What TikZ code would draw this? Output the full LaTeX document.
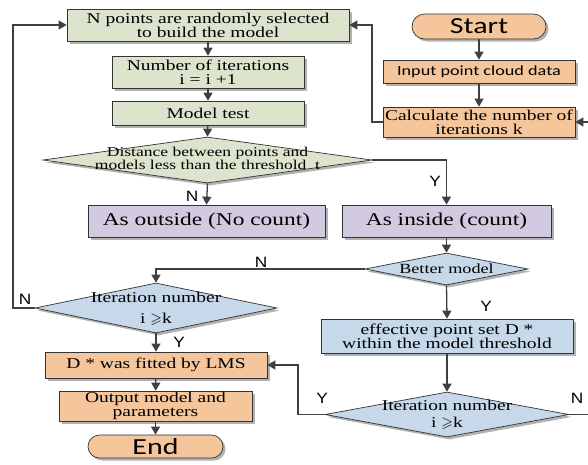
\documentclass[tikz,border=0pt]{standalone}
\usepackage{fontspec}
\setmainfont{Liberation Serif}[FakeStretch=1.3]
\newfontfamily\carl{Carlito}[FakeStretch=1.3]
\newfontfamily\lsans{Liberation Sans}[FakeStretch=1.15]
\usepackage{amssymb}
\usetikzlibrary{shapes.geometric,shadows,arrows.meta}
\definecolor{gr}{RGB}{221,228,205}
\definecolor{org}{RGB}{245,197,156}
\definecolor{lav}{RGB}{209,202,224}
\definecolor{blu}{RGB}{198,216,234}
\definecolor{ln}{RGB}{64,64,64}
\tikzset{
  base/.style={draw=black!80, line width=0.7pt, inner sep=0pt, align=center,
    drop shadow={shadow xshift=2.5pt, shadow yshift=-2.5pt, fill=black!30, opacity=1}},
  gbox/.style={base, fill=gr, font=\fontsize{15}{14}\selectfont},
  obox/.style={base, fill=org, font=\fontsize{15}{14}\selectfont},
  lbox/.style={base, fill=lav, font=\fontsize{18}{18}\selectfont},
  bbox/.style={base, fill=blu, font=\fontsize{15}{14}\selectfont},
  term/.style={base, fill=org, font=\carl\fontsize{23}{23}\selectfont},
  dia/.style={base, diamond},
  dtxt/.style={inner sep=0pt, align=center},
  lab/.style={inner sep=0pt, font=\lsans\fontsize{15}{15}\selectfont},
  arr/.style={draw=ln, line width=1.3pt, -{Triangle[length=8pt,width=9pt]}},
}
\begin{document}
\begin{tikzpicture}[x=1pt,y=-1pt]
\useasboundingbox (0,0) rectangle (588,464);
\clip (0,0) rectangle (588,464);
\fill[white] (0,0) rectangle (588,464);
% left column
\node[gbox, minimum width=282pt, minimum height=32pt] (n1) at (208,25) {N points are randomly selected\\to build the model};
\node[gbox, minimum width=192pt, minimum height=32pt] (n2) at (208,72) {Number of iterations\\i = i +1};
\node[gbox, minimum width=192pt, minimum height=24pt] (n3) at (208,113) {Model test};
\node[dia, fill=gr, minimum width=329pt, minimum height=46pt] (d1) at (207.5,160) {};
\node[dtxt, font=\fontsize{13.5}{11}\selectfont] (d1t) at (207.5,158) {Distance between points and\\models less than the threshold\ \ t};
\node[lbox, minimum width=237pt, minimum height=32pt] (out) at (206.5,221) {As outside (No count)};
\node[lbox, minimum width=209pt, minimum height=32pt] (in) at (446.5,221) {As inside (count)};
\node[dia, fill=blu, minimum width=163pt, minimum height=32pt] (bm) at (446.5,269) {};
\node[dtxt, font=\fontsize{14}{14}\selectfont] (bmt) at (446.5,269) {Better model};
\node[dia, fill=blu, minimum width=242pt, minimum height=50pt] (it1) at (156,308) {};
\node[dtxt, font=\fontsize{15}{21}\selectfont] (it1t) at (156,309) {Iteration number\\i $\geqslant$k};
\node[obox, minimum width=222pt, minimum height=26pt] (lms) at (156,365) {D * was fitted by LMS};
\node[obox, minimum width=193pt, minimum height=30pt] (outp) at (155.5,406) {Output model and\\parameters};
\node[term, minimum width=135pt, minimum height=23pt, rounded corners=11.5pt] (end) at (155.5,446.5) {End};
\node[bbox, minimum width=252pt, minimum height=34pt] (eff) at (447,336) {effective point set D *\\within the model threshold};
\node[dia, fill=blu, minimum width=244pt, minimum height=45pt] (it2) at (447,414.5) {};
\node[dtxt, font=\fontsize{15}{17}\selectfont] (it2t) at (447,414.5) {Iteration number\\i $\geqslant$k};
% right column
\node[term, minimum width=134pt, minimum height=25pt, rounded corners=12.5pt] (start) at (479,26.5) {Start};
\node[obox, font=\carl\fontsize{14}{14}\selectfont, minimum width=192pt, minimum height=23pt] (inp) at (479,71.5) {Input point cloud data};
\node[obox, minimum width=192pt, minimum height=30pt] (calc) at (479,122) {Calculate the number of\\iterations k};
% helper coordinates
\coordinate (c1) at (372,0);
\coordinate (c2) at (13,0);
\coordinate (c3) at (298,0);
\coordinate (c4) at (594,0);
% connectors
\draw[arr] (start) -- (inp);
\draw[arr] (inp) -- (calc);
\draw[arr] (calc.west) -- (calc.west -| c1) |- (n1.east);
\draw[arr] (n1) -- (n2);
\draw[arr] (n2) -- (n3);
\draw[arr] (n3) -- (d1.north);
\draw[arr] (d1.south) -- (out.north);
\draw[arr] (d1.east) -| (in.north);
\draw[arr] (in.south) -- (bm.north);
\draw[arr] (bm.west) -| (it1.north);
\draw[arr] (bm.south) -- (eff.north);
\draw[arr] (eff.south) -- (it2.north);
\draw[arr] (it1.south) -- (lms.north);
\draw[arr] (it1.west) -- (it1.west -| c2) |- (n1.west);
\draw[arr] (lms) -- (outp);
\draw[arr] (outp) -- (end);
\draw[arr] (it2.west) -- (it2.west -| c3) |- (lms.east);
\draw[arr] (it2.east) -- (it2.east -| c4) |- (calc.east);
% labels
\node[lab] (l1) at (192,196) {N};
\node[lab] (l2) at (435,181) {Y};
\node[lab] (l3) at (261,262) {N};
\node[lab] (l4) at (25,299) {N};
\node[lab] (l5) at (179,342) {Y};
\node[lab] (l6) at (486,306) {Y};
\node[lab] (l7) at (322,398) {Y};
\node[lab] (l8) at (577,398) {N};
\end{tikzpicture}
\end{document}
